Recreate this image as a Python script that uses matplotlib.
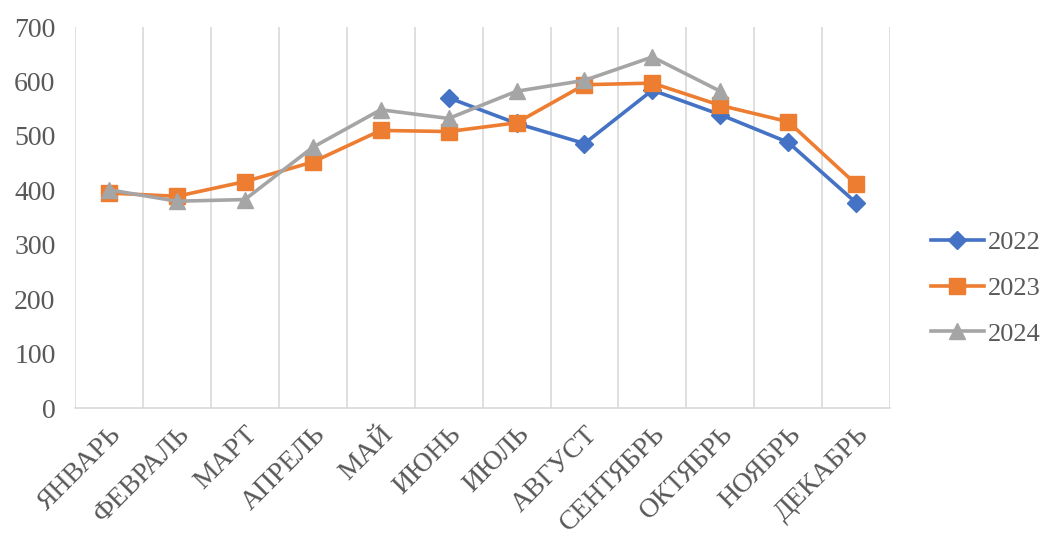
import numpy as np
from matplotlib import pyplot as plt

plt.rcParams['font.family'] = ['Liberation Serif', 'DejaVu Serif']

months = ['ЯНВАРЬ', 'ФЕВРАЛЬ', 'МАРТ', 'АПРЕЛЬ', 'МАЙ', 'ИЮНЬ',
          'ИЮЛЬ', 'АВГУСТ', 'СЕНТЯБРЬ', 'ОКТЯБРЬ', 'НОЯБРЬ', 'ДЕКАБРЬ']
nan = np.nan
y2022 = [nan, nan, nan, nan, nan, 570, 523, 486, 584, 539, 488, 377]
y2023 = [395, 389, 416, 452, 510, 508, 524, 594, 597, 556, 526, 411]
y2024 = [401, 380, 383, 479, 548, 532, 582, 602, 645, 582, nan, nan]

fig = plt.figure(figsize=(10.46, 5.46), dpi=100)
ax = fig.add_axes([0.0717, 0.2527, 0.7793, 0.6978])

x = np.arange(len(months))
ax.plot(x, y2022, color='#4472c4', lw=2.6, marker='D', ms=9, label='2022')
ax.plot(x, y2023, color='#ed7d31', lw=2.6, marker='s', ms=11, label='2023')
ax.plot(x, y2024, color='#a5a5a5', lw=2.6, marker='^', ms=11, label='2024')

ax.set_xlim(-0.5, 11.5)
ax.set_ylim(0, 700)
ax.set_yticks(range(0, 701, 100))
ax.set_xticks(x)
ax.set_xticklabels(months, rotation=45, ha='right', rotation_mode='anchor')
for b in np.arange(-0.5, 12, 1):
    ax.axvline(b, color='#d9d9d9', lw=1.2, zorder=0)

for s in ['top', 'right', 'left']:
    ax.spines[s].set_visible(False)
ax.spines['bottom'].set_color('#d9d9d9')
ax.spines['bottom'].set_linewidth(1.2)
ax.tick_params(axis='both', length=0, labelsize=20, labelcolor='#595959')
ax.tick_params(axis='x', pad=10)
ax.tick_params(axis='y', pad=14)

leg = ax.legend(loc='center left', bbox_to_anchor=(1.05, 0.315), frameon=False,
                fontsize=19, handlelength=2.0, handletextpad=0.15,
                labelspacing=0.85, borderpad=0, borderaxespad=0)
for t in leg.get_texts():
    t.set_color('#595959')

plt.savefig('out.png', dpi=100)
